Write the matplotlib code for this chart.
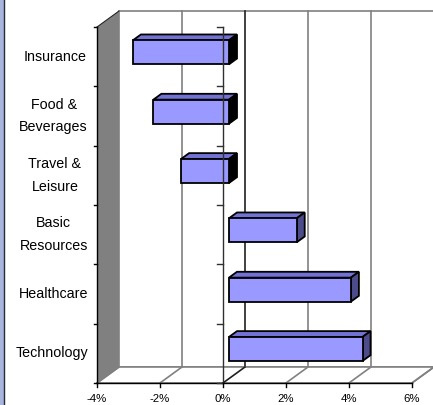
import matplotlib
matplotlib.use("Agg")
import matplotlib.pyplot as plt
from matplotlib.patches import Polygon, Rectangle

# Sector performance data
categories = ["Insurance", "Food &\nBeverages", "Travel &\nLeisure",
              "Basic\nResources", "Healthcare", "Technology"]
values = [-3.05, -2.40, -1.52, 2.15, 3.87, 4.24]
x_ticks = [-4, -2, 0, 2, 4, 6]
x_tick_labels = ["-4%", "-2%", "0%", "2%", "4%", "6%"]

W, H = 433, 405
fig = plt.figure(figsize=(W / 100, H / 100), dpi=100)
fig.patch.set_facecolor("white")
ax = fig.add_axes([0, 0, 1, 1])
ax.axis("off")

# Front-plane scale: pixels per percent and per category band
PX_PER_PCT = 31.5
PX_PER_CAT = 59.33
ZERO_PX = 223
TOP_PX = 27
ax.set_xlim(-ZERO_PX / PX_PER_PCT, (W - ZERO_PX) / PX_PER_PCT)
ax.set_ylim((H - TOP_PX) / PX_PER_CAT, -TOP_PX / PX_PER_CAT)


def px_x(p):
    return (p - ZERO_PX) / PX_PER_PCT


def px_y(p):
    return (p - TOP_PX) / PX_PER_CAT


def dpx_x(d):
    return d / PX_PER_PCT


def dpx_y(d):
    return d / PX_PER_CAT


# Oblique depth offset (depth 0 = front plane, 1 = back wall)
DX = dpx_x(22)
DY = dpx_y(-16)


def P(x, y, d=0.0):
    return (x + d * DX, y + d * DY)


xmin, xmax = x_ticks[0], x_ticks[-1]
n = len(categories)
GRID = "#808080"
LW1 = 0.75

# Back wall
ax.add_patch(Polygon([P(xmin, 0, 1), P(xmax, 0, 1), P(xmax, n, 1), P(xmin, n, 1)],
                     closed=True, facecolor="white", edgecolor=GRID, lw=1.2, zorder=1))
for t in x_ticks[1:-1]:
    c = "#202020" if t == 0 else GRID
    (x0, y0), (x1, y1) = P(t, 0, 1), P(t, n, 1)
    ax.plot([x0, x1], [y0, y1], color=c, lw=1.2, zorder=2)

# Left side wall
ax.add_patch(Polygon([P(xmin, 0, 0), P(xmin, 0, 1), P(xmin, n, 1), P(xmin, n, 0)],
                     closed=True, facecolor="#808080", edgecolor="none", zorder=3))
(x0, y0), (x1, y1) = P(xmin, 0, 0), P(xmin, 0, 1)
ax.plot([x0, x1], [y0, y1], color="#202020", lw=LW1, zorder=4)

# Floor
ax.add_patch(Polygon([P(xmin, n, 0), P(xmax, n, 0), P(xmax, n, 1), P(xmin, n, 1)],
                     closed=True, facecolor="white", edgecolor=GRID, lw=1.2, zorder=3))
for t in x_ticks:
    c = "#202020" if t == 0 else GRID
    (x0, y0), (x1, y1) = P(t, n, 0), P(t, n, 1)
    ax.plot([x0, x1], [y0, y1], color=c, lw=1.2, zorder=4)

# 3-D bars
D0, D1 = 0.27, 0.636
HALF = 0.2025
FRONT = "#9999FF"
TOP = "#7272D4"
SIDE_POS = "#4C4C8A"
SIDE_NEG = "#000000"
for i, v in enumerate(values):
    yc = i + 0.5
    ya, yb = yc - HALF, yc + HALF
    xa, xb = min(0, v), max(0, v)
    side = SIDE_POS if v > 0 else SIDE_NEG
    top = [P(xa, ya, D0), P(xb, ya, D0), P(xb, ya, D1), P(xa, ya, D1)]
    right = [P(xb, ya, D0), P(xb, ya, D1), P(xb, yb, D1), P(xb, yb, D0)]
    front = [P(xa, ya, D0), P(xb, ya, D0), P(xb, yb, D0), P(xa, yb, D0)]
    for poly, fc in ((top, TOP), (right, side), (front, FRONT)):
        ax.add_patch(Polygon(poly, closed=True, facecolor=fc, edgecolor="black",
                             lw=1.3, joinstyle="miter", zorder=6))

# Front axes
ax.plot([xmin, xmin], [0, n], color="black", lw=1.0, zorder=8)
ax.plot([0, 0], [0, n], color="#303030", lw=1.0, zorder=8)
ax.plot([xmin, xmax], [n, n], color="black", lw=1.0, zorder=8)
for k in range(n + 1):
    ax.plot([xmin - dpx_x(3), xmin], [k, k], color="black", lw=1.0, zorder=8)
    ax.plot([0 - dpx_x(6), 0], [k, k], color="#303030", lw=1.0, zorder=8)
for t in x_ticks:
    ax.plot([t, t], [n, n + dpx_y(4)], color="black", lw=1.0, zorder=8)

# Tick labels
for t, lab in zip(x_ticks, x_tick_labels):
    ax.text(t, px_y(394.5), lab, ha="center", va="top", fontsize=8.2,
            family="Liberation Sans", color="black")

fig.canvas.draw()
renderer = fig.canvas.get_renderer()
for i, lab in enumerate(categories):
    txt = ax.text(px_x(55), i + 0.5, lab, ha="center", va="center",
                  multialignment="center", fontsize=10.3, linespacing=1.8,
                  family="Liberation Sans", color="black")
    bb = txt.get_window_extent(renderer)
    if bb.x1 > 89:
        txt.set_x(px_x(88))
        txt.set_ha("right")

# Left frame strip
fig.patches.append(Rectangle((0, 0), 3.5 / W, 1, transform=fig.transFigure,
                             facecolor="#A9B4DC", edgecolor="none"))
fig.lines.append(plt.Line2D([3.8 / W, 3.8 / W], [0, 1], transform=fig.transFigure,
                            color="#2A2A3A", lw=1.0))

fig.savefig("out.png", dpi=100, facecolor="white")
